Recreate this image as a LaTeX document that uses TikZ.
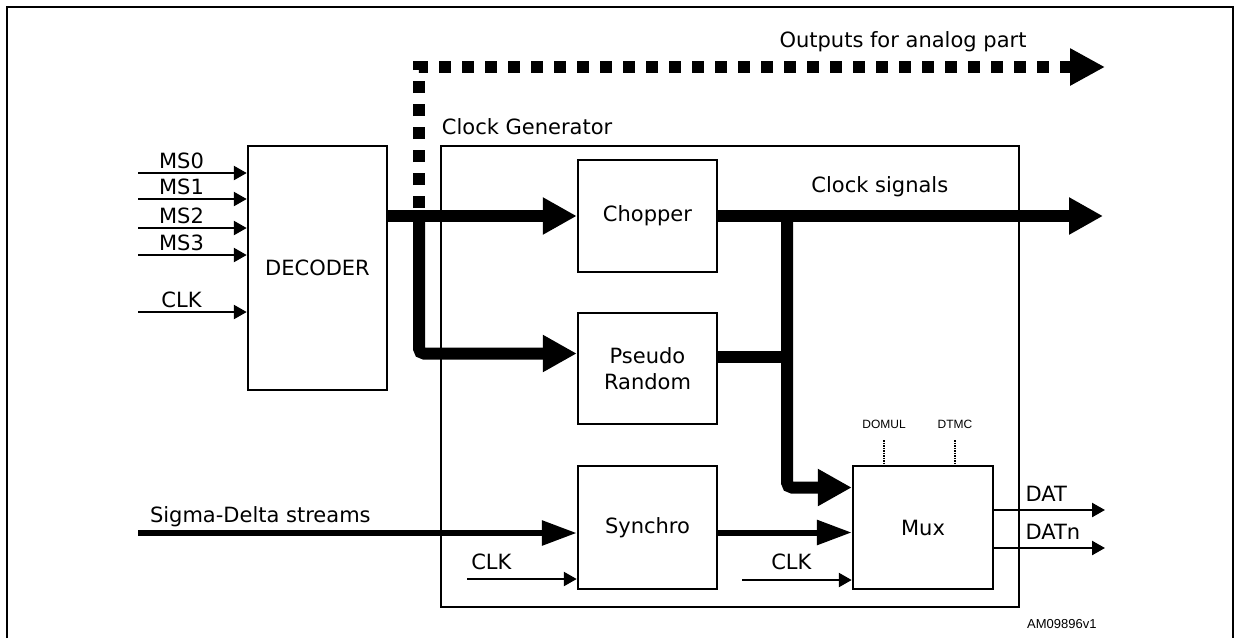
\documentclass[tikz,border=0pt]{standalone}
\usepackage{fontspec}
\setmainfont{DejaVu Sans}
\newfontfamily\arialfont{Liberation Sans}
\usetikzlibrary{arrows.meta,%
                positioning,%
                calc%
              }
\def\msinputs{173/MS0, 199/MS1, 228/MS2, 255/MS3, 312/CLK}
\def\muxticks{884/DOMUL, 955/DTMC}
\def\muxoutputs{510/DAT, 548/DATn}
\tikzset{%
  block/.style={draw, line width=2.5pt, minimum width=139pt, inner sep=0pt,%
    align=center, font=\fontsize{21}{26}\selectfont},%
  lbl/.style={font=\fontsize{21}{26}\selectfont, inner sep=3pt},%
  smalllbl/.style={font=\arialfont\fontsize{12}{14}\selectfont, inner sep=0pt},%
  thinarrow/.style={line width=2.5pt, -{Triangle[length=13pt,width=14pt]}},%
  busline/.style={line width=12pt},%
  busarrow/.style={busline, -{Triangle[length=34pt,width=35pt]}},%
  streamarrow/.style={line width=6pt, -{Triangle[length=35pt,width=24pt]}},%
  analogbus/.style={line width=12pt, dash pattern=on 12pt off 11pt,%
    -{Triangle[length=35pt,width=35pt]}},%
  dottick/.style={line width=2pt, dash pattern=on 1.5pt off 1pt}%
}

\begin{document}
\begin{tikzpicture}[x=1pt, y=-1pt]
  \useasboundingbox (0,0) rectangle (1237,638);
  \draw[line width=2.5pt] (7,638) -- (7,7) -- (1233,7) -- (1233,638);

  % blocks
  \node[block, minimum height=244pt] (dec) at (317.5,268) {DECODER};
  \node[block, minimum width=578pt, minimum height=461pt] (gen) at (730,376.5) {};
  \node[lbl, inner sep=0pt, anchor=base west] (genlbl)
    at ([xshift=2pt, yshift=10pt]gen.north west) {Clock Generator};
  \node[block, minimum height=112pt] (chop) at (647.5,216) {Chopper};
  \node[block, minimum height=111pt] (prand) at (647.5,368.5) {Pseudo\\Random};
  \node[block, minimum height=123pt] (sync) at (647.5,527.5) {Synchro};
  \node[block, minimum width=140pt, minimum height=123pt] (mux) at (923,527.5) {Mux};

  % decoder inputs
  \foreach \y/\t in \msinputs {%
    \coordinate (in\t) at (138,\y);
    \draw[thinarrow] (in\t) -- (in\t -| dec.west)
      node[lbl, above, pos=0.4] (l\t) {\t};
  }

  % buses from the decoder
  \coordinate (br) at (419,216);
  \coordinate (prin) at ([yshift=15pt]prand.west);
  \coordinate (ana) at (1105,67);
  \draw[analogbus] ([yshift=8pt]br) |- (ana);
  \node[lbl] (analbl) at (903,42) {Outputs for analog part};
  \draw[busarrow] (dec.east |- chop.west) -- (chop.west);
  \draw[busarrow, rounded corners=5pt] (br) |- (prin);

  % clock signals
  \coordinate (clkout) at (1103,216);
  \coordinate (jn) at (787,216);
  \coordinate (muxin) at ([yshift=40pt]mux.west);
  \coordinate (prout) at ([yshift=12pt]prand.east);
  \draw[busarrow] (chop.east) -- (clkout)
    node[lbl, above=10pt, pos=0.42] (clklbl) {Clock signals};
  \draw[busline] (prout) -- (prout -| jn);
  \draw[busarrow, rounded corners=5pt] (jn) |- (muxin);

  % data path
  \coordinate (sd) at (138,533);
  \coordinate (syout) at ([yshift=-5pt]sync.east);
  \draw[streamarrow] (sd) -- (sd -| sync.west)
    node[lbl, anchor=south west, pos=0, xshift=6pt] (sdlbl) {Sigma-Delta streams};
  \draw[streamarrow] (syout) -- (syout -| mux.west);

  \coordinate (sclk) at (467,579);
  \coordinate (mclk) at (742,580);
  \draw[thinarrow] (sclk) -- (sclk -| sync.west)
    node[lbl, anchor=south west, pos=0, yshift=5pt] (sclklbl) {CLK};
  \draw[thinarrow] (mclk) -- (mclk -| mux.west)
    node[lbl, above, pos=0.45, yshift=6pt] (mclklbl) {CLK};

  % mux controls and outputs
  \foreach \x/\t in \muxticks {%
    \coordinate (tk\t) at (\x,440);
    \draw[dottick] (tk\t) -- (tk\t |- mux.north);
    \node[smalllbl, above=11pt] (l\t) at (tk\t) {\t};
  }
  \foreach \y/\t in \muxoutputs {%
    \coordinate (o\t) at (1105,\y);
    \draw[thinarrow] (mux.east |- o\t) -- (o\t)
      node[lbl, anchor=south west, pos=0, xshift=27pt, yshift=4pt] (l\t) {\t};
  }

  \node[smalllbl, font=\arialfont\fontsize{13}{15}\selectfont, anchor=west]
    (amref) at (1027,624) {AM09896v1};
\end{tikzpicture}
\end{document}
